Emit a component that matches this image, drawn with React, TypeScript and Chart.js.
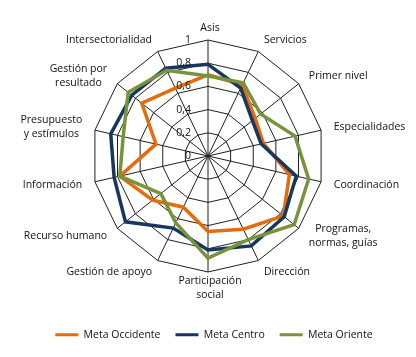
import React, { useEffect, useRef } from 'react';
import { Chart, registerables } from 'chart.js';

Chart.register(...registerables);

const categories: (string | string[])[] = [
  'Asis',
  'Servicios',
  'Primer nivel',
  'Especialidades',
  'Coordinación',
  ['Programas,', 'normas, guías'],
  'Dirección',
  ['Participación', 'social'],
  'Gestión de apoyo',
  'Recurso humano',
  'Información',
  ['Presupuesto', 'y estímulos'],
  ['Gestión por', 'resultado'],
  'Intersectorialidad',
];

const seriesNames = ['Meta Occidente', 'Meta Centro', 'Meta Oriente'];
const metaOccidente = [0.7, 0.68, 0.52, 0.49, 0.72, 0.83, 0.7, 0.65, 0.49, 0.61, 0.78, 0.46, 0.73, 0.65];
const metaCentro = [0.79, 0.65, 0.49, 0.47, 0.78, 0.84, 0.86, 0.81, 0.69, 0.91, 0.83, 0.86, 0.84, 0.84];
const metaOriente = [0.69, 0.7, 0.58, 0.77, 0.89, 0.95, 0.8, 0.88, 0.64, 0.52, 0.78, 0.75, 0.88, 0.82];
const tickValues = [0, 0.2, 0.4, 0.6, 0.8, 1];
const tickLabels = ['0', '0,2', '0,4', '0,6', '0,8', '1'];

const seriesColors = ['#E46C0A', '#17375E', '#77933C'];
const FONT = '"Open Sans", sans-serif';
const FONT_SIZE = 10.5;
const TEXT_COLOR = '#111111';
const GRID_COLOR = '#1f1f1f';

const labelPlugin = {
  id: 'customLabels',
  afterDraw(chart: any) {
    const scale = chart.scales.r;
    const ctx = chart.ctx;
    ctx.save();
    ctx.font = `${FONT_SIZE}px ${FONT}`;
    ctx.fillStyle = TEXT_COLOR;
    ctx.textAlign = 'center';
    ctx.textBaseline = 'middle';
    const lh = 14;
    categories.forEach((cat, i) => {
      const lines = Array.isArray(cat) ? cat : [cat];
      const angle = scale.getIndexAngle(i);
      const s = Math.sin(angle);
      const c = Math.cos(angle);
      const h = lines.length * lh;
      const w = Math.max(...lines.map((l) => ctx.measureText(l).width));
      let cx: number;
      let top: number;
      if (Math.abs(s) < 0.05) {
        const p = scale.getPointPosition(i, scale.drawingArea + 5);
        cx = p.x + 2;
        top = c > 0 ? p.y - h : p.y - 3;
      } else {
        const p = scale.getPointPosition(i, scale.drawingArea + 13);
        cx = s > 0 ? p.x + w / 2 : p.x - w / 2;
        top = p.y - h / 2;
      }
      lines.forEach((l, k) => ctx.fillText(l, cx, top + lh * k + lh / 2));
    });
    ctx.textAlign = 'right';
    tickValues.forEach((v, k) => {
      const p = scale.getPointPositionForValue(0, v);
      ctx.fillText(tickLabels[k], scale.xCenter - 17, p.y);
    });
    ctx.restore();
  },
};

export default function App() {
  const ref = useRef<HTMLCanvasElement | null>(null);
  useEffect(() => {
    if (!ref.current) return;
    const series = [metaOccidente, metaCentro, metaOriente];
    const chart = new Chart(ref.current, {
      type: 'radar',
      data: {
        labels: categories as any,
        datasets: series.map((d, i) => ({
          label: seriesNames[i],
          data: d,
          borderColor: seriesColors[i],
          backgroundColor: seriesColors[i],
          borderWidth: 3.5,
          fill: false,
          pointRadius: 0,
          pointHoverRadius: 0,
          tension: 0,
          order: 3 - i,
        })),
      },
      options: {
        responsive: false,
        animation: false,
        layout: { padding: { left: 12, bottom: 7 } },
        scales: {
          r: {
            min: 0,
            max: 1,
            ticks: { stepSize: 0.2, display: false },
            grid: { color: GRID_COLOR, lineWidth: 1 },
            angleLines: { color: GRID_COLOR, lineWidth: 1 },
            pointLabels: { display: false },
            afterFit: (scale: any) => {
              scale.xCenter = 208;
              scale.yCenter = 156;
              scale.drawingArea = 116;
            },
          },
        },
        plugins: {
          tooltip: { enabled: false },
          legend: {
            position: 'bottom',
            labels: {
              usePointStyle: true,
              pointStyleWidth: 23,
              padding: 15,
              color: TEXT_COLOR,
              font: { family: FONT, size: FONT_SIZE },
              generateLabels: (ch: any) =>
                ch.data.datasets.map((ds: any, i: number) => ({
                  text: ds.label,
                  fillStyle: ds.borderColor,
                  strokeStyle: ds.borderColor,
                  lineWidth: 3,
                  pointStyle: 'line',
                  hidden: false,
                  datasetIndex: i,
                  fontColor: TEXT_COLOR,
                })),
            },
          },
        },
      },
      plugins: [labelPlugin],
    } as any);
    return () => chart.destroy();
  }, []);
  return (
    <div style={{ position: 'fixed', left: 0, top: 0, width: 416, height: 357, background: '#fff' }}>
      <canvas ref={ref} width={416} height={357} />
    </div>
  );
}
